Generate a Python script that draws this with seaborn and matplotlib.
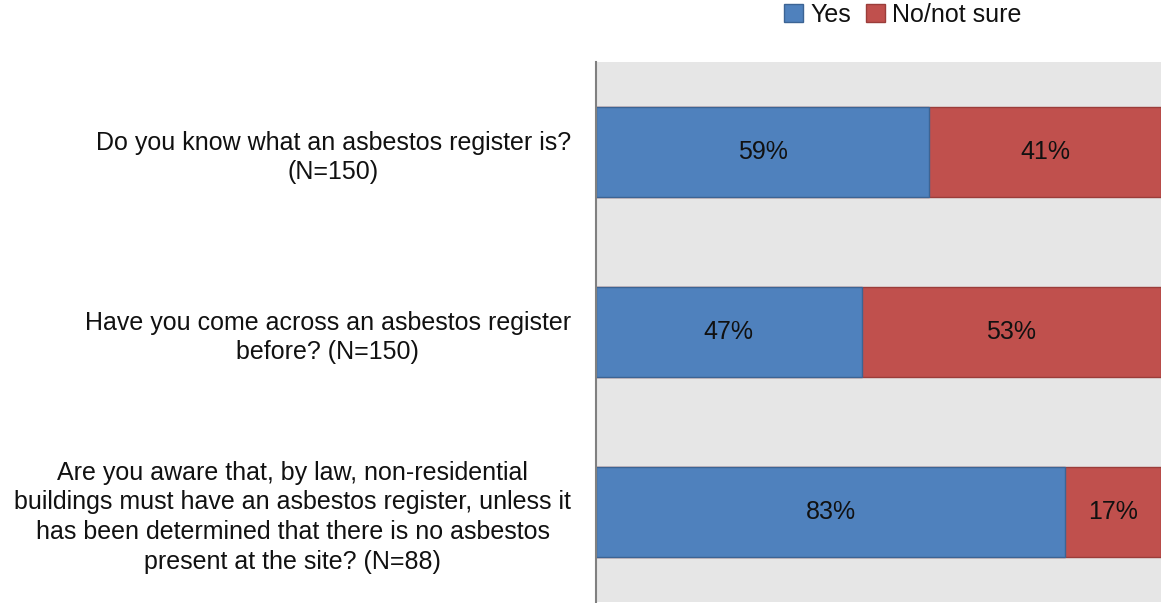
import matplotlib
matplotlib.use("Agg")
import matplotlib.pyplot as plt
import seaborn as sns
import pandas as pd
from matplotlib.patches import Patch

# data
questions = [
    "Do you know what an asbestos register is?\n(N=150)",
    "Have you come across an asbestos register\nbefore? (N=150)",
    "Are you aware that, by law, non-residential\nbuildings must have an asbestos register, unless it\nhas been determined that there is no asbestos\npresent at the site? (N=88)",
]
yes = [59, 47, 83]
no_not_sure = [41, 53, 17]
series = ["Yes", "No/not sure"]

blue = "#4F81BD"
red = "#C0504D"

sns.set_theme(style="white")
plt.rcParams['font.family'] = ['Liberation Sans', 'DejaVu Sans']

df = pd.DataFrame({"question": questions, "yes": yes, "no": no_not_sure})
df["total"] = df["yes"] + df["no"]

fig = plt.figure(figsize=(11.63, 6.03), dpi=100)
ax = fig.add_axes([596 / 1163, 1 / 603, 565 / 1163, 540 / 603])
ax.set_facecolor("#E6E6E6")

# stacked: draw totals in red, then "yes" in blue on top
sns.barplot(data=df, x="total", y="question", color=red, width=0.5,
            edgecolor="#9B3D3A", linewidth=1, saturation=1, ax=ax)
sns.barplot(data=df, x="yes", y="question", color=blue, width=0.5,
            edgecolor="#3C6494", linewidth=1, saturation=1, ax=ax)

for i, (y_, n_) in enumerate(zip(yes, no_not_sure)):
    ax.text(y_ / 2, i, f"{y_}%", ha="center", va="center", fontsize=18, color="#111111")
    ax.text(y_ + n_ / 2, i, f"{n_}%", ha="center", va="center", fontsize=18, color="#111111")

ax.set_xlim(0, 100)
ax.set_ylim(2.5, -0.5)
ax.set_xlabel("")
ax.set_ylabel("")
ax.set_xticks([])
ax.tick_params(axis="y", length=0, pad=18, labelsize=18, labelcolor="#111111")
for lbl in ax.get_yticklabels():
    lbl.set_multialignment("center")
    lbl.set_linespacing(1.3)

for s in ["top", "right", "bottom"]:
    ax.spines[s].set_visible(False)
ax.spines["left"].set_color("#808080")
ax.spines["left"].set_linewidth(1.5)

handles = [Patch(facecolor=blue, edgecolor="#3C6494", label=series[0]),
           Patch(facecolor=red, edgecolor="#9B3D3A", label=series[1])]
fig.legend(handles=handles, loc="center", bbox_to_anchor=(903 / 1163, 1 - 15 / 603),
           ncol=2, frameon=False, fontsize=18, handlelength=0.75, handleheight=0.75,
           handletextpad=0.3, columnspacing=0.6, labelcolor="#111111")

fig.savefig("out.png", dpi=100)
plt.close(fig)
